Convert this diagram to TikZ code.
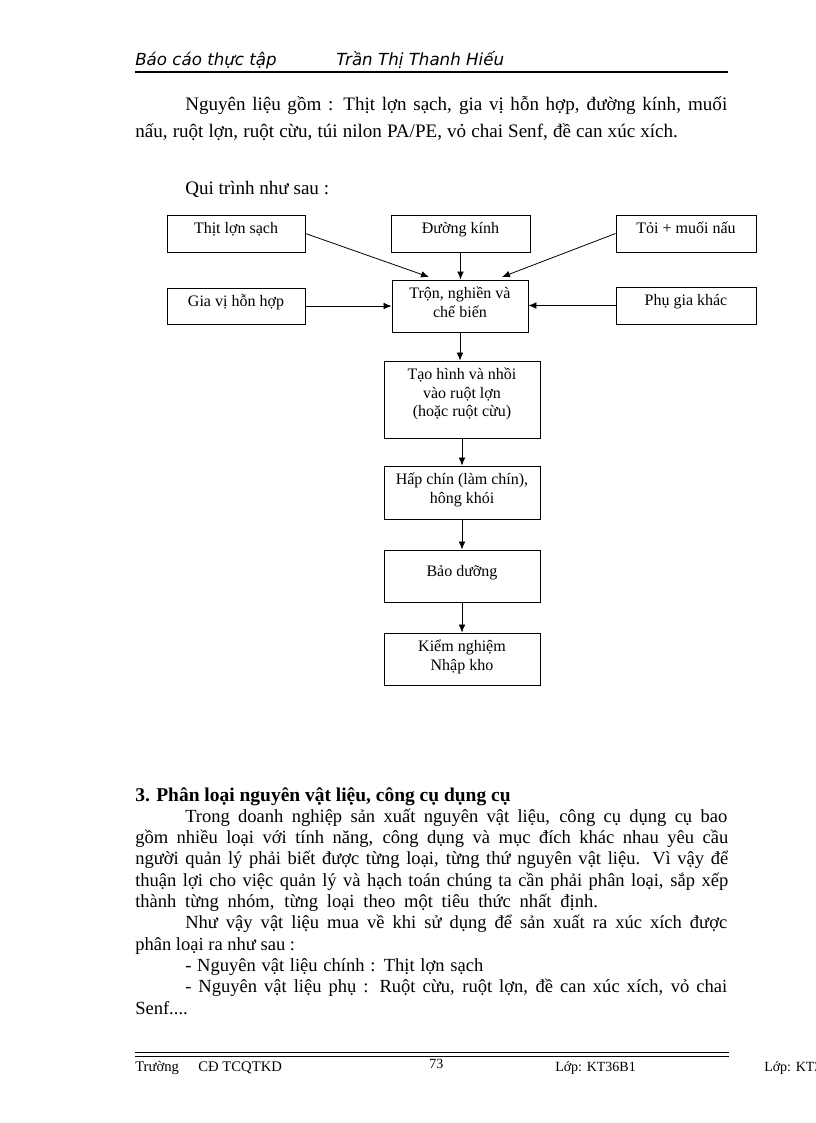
\documentclass[tikz,border=0pt]{standalone}
\usepackage{fontspec}
\setmainfont{Liberation Serif}
\newfontfamily\hdrfont{DejaVu Sans}
\usetikzlibrary{arrows.meta}
\newcommand{\bxt}[4]{\parbox[c][#2][t]{#1}{\centering\rule{0pt}{#3}#4}}
\begin{document}
\begin{tikzpicture}[x=0.75pt,y=-0.75pt,
  txt/.style={anchor=base west,inner sep=0pt,font=\fontsize{13.9}{16}\selectfont},
  toptxt/.style={anchor=base west,inner sep=0pt,font=\fontsize{14.3}{16}\selectfont},
  hdr/.style={anchor=base west,inner sep=0pt,font=\hdrfont\itshape\fontsize{12.5}{14}\selectfont},
  foot/.style={anchor=base west,inner sep=0pt,font=\fontsize{10.5}{12}\selectfont},
  box/.style={draw,line width=0.7pt,inner sep=0pt,font=\fontsize{12}{13.9}\selectfont},
  arr/.style={-{Latex[length=6pt,width=5pt]},line width=0.6pt}]
\useasboundingbox (0,0) rectangle (816,1123);
\clip (0,0) rectangle (816,1123);
\fill[white] (0,0) rectangle (816,1123);
% header
\node[hdr] (h1) at (135,66) {Báo cáo thực tập};
\node[hdr] (h2) at (336,66) {Trần Thị Thanh Hiếu};
\coordinate (hlA) at (135,72);
\coordinate (hlB) at (728,72);
\draw[line width=1.5pt] (hlA) -- (hlB);
% top text
\node[toptxt] (p1) at (185,111) {\makebox[406.5pt][s]{Nguyên liệu gồm : Thịt lợn sạch, gia vị hỗn hợp, đường kính, muối}};
\node[toptxt] (p2) at (135,138) {\makebox[407pt][s]{nấu, ruột lợn, ruột cừu, túi nilon PA/PE, vỏ chai Senf, đề can xúc xích.}};
\node[toptxt] (p3) at (185,195) {Qui trình như sau :};
% flowchart boxes
\node[box] (thit) at (236,233.5) {\bxt{103.5pt}{27.75pt}{14pt}{Thịt lợn sạch}};
\node[box] (duong) at (460.5,233.5) {\bxt{104.25pt}{27.75pt}{14pt}{Đường kính}};
\node[box] (toi) at (686,233.5) {\bxt{105pt}{27.75pt}{14pt}{Tỏi + muối nấu}};
\node[box] (giavi) at (236,306) {\bxt{103.5pt}{27pt}{14pt}{Gia vị hỗn hợp}};
\node[box] (tron) at (460,306) {\bxt{102pt}{39pt}{14pt}{Trộn, nghiền và\\ chế biến}};
\node[box] (phugia) at (686,305.5) {\bxt{105pt}{27.75pt}{14pt}{Phụ gia khác}};
\node[box] (taohinh) at (462,399.5) {\bxt{117pt}{57.75pt}{14pt}{Tạo hình và nhồi\\ vào ruột lợn\\ (hoặc ruột cừu)}};
\node[box] (hap) at (462,492.5) {\bxt{117pt}{39.75pt}{14pt}{Hấp chín (làm chín),\\ hông khói}};
\node[box] (bao) at (462,576) {\bxt{117pt}{39pt}{20pt}{Bảo dưỡng}};
\node[box] (kiem) at (462,659) {\bxt{117pt}{39pt}{14pt}{Kiểm nghiệm\\ Nhập kho}};
% connectors
\coordinate (tA) at (429,277);
\coordinate (tB) at (502,277);
\draw[arr] (thit.east) -- (tA);
\draw[arr] (toi.west) -- (tB);
\draw[arr] (duong.south) -- (duong.south |- tron.north);
\draw[arr] (giavi.east) -- (giavi.east -| tron.west);
\draw[arr] (phugia.west) -- (phugia.west -| tron.east);
\draw[arr] (tron.south) -- (tron.south |- taohinh.north);
\draw[arr] (taohinh.south) -- (hap.north);
\draw[arr] (hap.south) -- (bao.north);
\draw[arr] (bao.south) -- (kiem.north);
% bottom text
\node[txt,font=\bfseries\fontsize{14.6}{17}\selectfont] (b0) at (135,801) {3. Phân loại nguyên vật liệu, công cụ dụng cụ};
\node[txt] (b1) at (185,822.3) {\makebox[406.5pt][s]{Trong doanh nghiệp sản xuất nguyên vật liệu, công cụ dụng cụ bao}};
\node[txt] (b2) at (135,843.6) {\makebox[444.75pt][s]{gồm nhiều loại với tính năng, công dụng và mục đích khác nhau yêu cầu}};
\node[txt] (b3) at (135,864.9) {\makebox[444.75pt][s]{người quản lý phải biết được từng loại, từng thứ nguyên vật liệu. Vì vậy để}};
\node[txt] (b4) at (135,886.2) {\makebox[444.75pt][s]{thuận lợi cho việc quản lý và hạch toán chúng ta cần phải phân loại, sắp xếp}};
\node[txt] (b5) at (135,907.5) {\makebox[347pt][s]{thành từng nhóm, từng loại theo một tiêu thức nhất định.}};
\node[txt] (b6) at (185,928.8) {\makebox[406.5pt][s]{Như vậy vật liệu mua về khi sử dụng để sản xuất ra xúc xích được}};
\node[txt] (b7) at (135,950.1) {phân loại ra như sau :};
\node[txt] (b8) at (185,971.4) {\makebox[223.5pt][s]{- Nguyên vật liệu chính : Thịt lợn sạch}};
\node[txt] (b9) at (185,992.7) {\makebox[406.5pt][s]{- Nguyên vật liệu phụ : Ruột cừu, ruột lợn, đề can xúc xích, vỏ chai}};
\node[txt] (b10) at (135,1014) {Senf....};
% footer
\coordinate (flA) at (135,1052);
\coordinate (flB) at (729,1052);
\coordinate (flC) at (135,1056);
\coordinate (flD) at (729,1056);
\draw[line width=0.7pt] (flA) -- (flB);
\draw[line width=0.7pt] (flC) -- (flD);
\node[foot,font=\fontsize{11}{12}\selectfont] (f1) at (135,1071) {\makebox[110pt][l]{Trường\hfill CĐ TCQTKD}};
\node[foot] (f2) at (429,1068) {73};
\node[foot] (f3) at (555,1071) {Lớp: KT36B1};
\node[foot] (f4) at (764,1071) {Lớp: KT36B1};
\end{tikzpicture}
\end{document}
